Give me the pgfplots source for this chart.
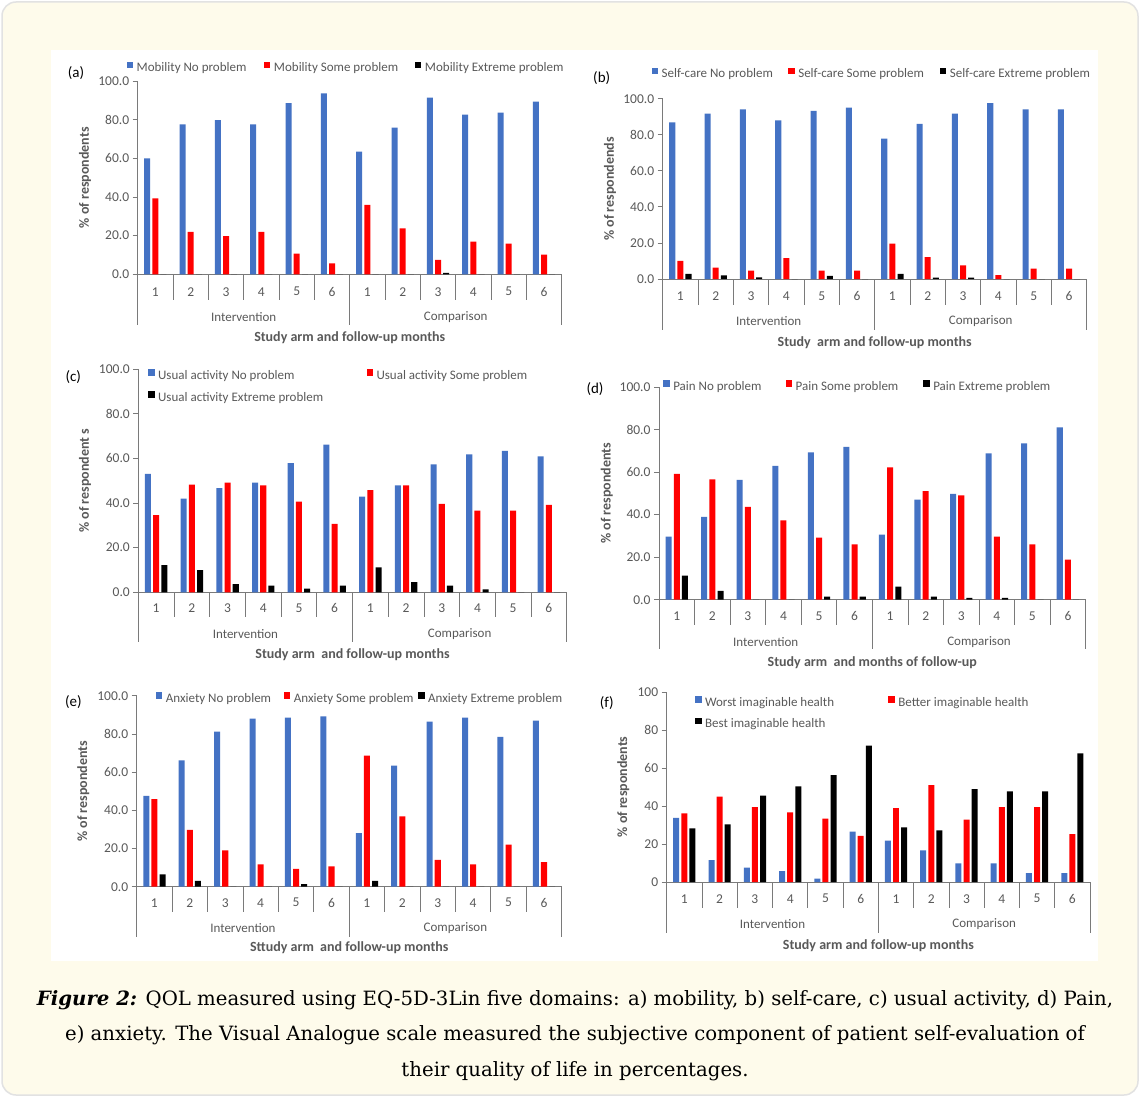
\documentclass[border=0pt]{standalone}
\usepackage{pgfplots}
\pgfplotsset{compat=1.18}
\usepackage{fontspec}
\setmainfont{Carlito}
\newfontfamily\capfont{DejaVu Serif}
\definecolor{xblue}{HTML}{4472C4}
\definecolor{xred}{HTML}{FF0000}
\definecolor{txtgray}{HTML}{595959}
\definecolor{axgray}{HTML}{7A7A7A}
\definecolor{cream}{HTML}{FEFBEB}
\definecolor{framegray}{HTML}{E2E2E2}

\newcommand{\tickfont}{\fontsize{13.5}{15}\selectfont}
\newcommand{\legfont}{\fontsize{13}{15}\selectfont}
\newcommand{\grpfont}{\fontsize{13}{15}\selectfont}
\newcommand{\titfont}{\fontsize{14}{16}\selectfont\bfseries}
\newcommand{\letfont}{\fontsize{15}{17}\selectfont}

\tikzset{sepline/.style={axgray, line width=0.8pt}}
\pgfplotsset{
  panel/.style={
    scale only axis, clip=false,
    ymin=0, ymax=100, xmin=-0.5, xmax=11.5,
    axis lines*=left,
    axis line style={axgray, line width=0.8pt},
    ytick={0,20,40,60,80,100},
    ytick align=outside, ytick pos=left,
    major tick length=5pt,
    y tick style={axgray, line width=0.8pt},
    /pgf/number format/assume math mode=true,
    yticklabel style={font=\tickfont, text=txtgray,
      /pgf/number format/fixed, /pgf/number format/fixed zerofill,
      /pgf/number format/precision=1},
    xtick={0,1,2,3,4,5,6,7,8,9,10,11},
    xticklabels={1,2,3,4,5,6,1,2,3,4,5,6},
    x tick style={draw=none},
    xticklabel style={font=\tickfont, text=txtgray, anchor=center, yshift=-16.5pt},
    legend cell align=left,
    legend style={draw=none, fill=none, inner sep=0pt, outer sep=0pt,
      font=\legfont, text=txtgray,
      nodes={inner sep=0pt, text height=9pt, text depth=3pt},
      /tikz/column sep=0pt, /tikz/row sep=8.7pt,
      /tikz/every odd column/.style={column sep=3.5pt},
      /tikz/every even column/.style={column sep=0pt}},
  },
  xb/.style={ybar, bar width=0.17, draw=none,
    legend image code/.code={\fill[##1] (0pt,0.5pt) rectangle (6.5pt,7pt);}},
}
\newcommand{\seps}[2]{%
  \pgfplotsinvokeforeach{0.5,1.5,2.5,3.5,4.5,6.5,7.5,8.5,9.5,10.5}{\draw[sepline] (axis cs:##1,0) -- ++(0pt,-#1pt);}%
  \pgfplotsinvokeforeach{-0.5,5.5,11.5}{\draw[sepline] (axis cs:##1,0) -- ++(0pt,-#2pt);}%
}

\begin{document}
\begin{tikzpicture}
\useasboundingbox (0pt,0pt) rectangle (1140pt,-1097pt);
\fill[white] (0pt,0pt) rectangle (1140pt,-1097pt);
\draw[framegray, fill=cream, line width=1.5pt, rounded corners=14pt] (2pt,-2pt) rectangle (1138pt,-1095pt);
\fill[white] (51pt,-50pt) rectangle (1098pt,-961pt);

% ---------------- (a) ----------------
\begin{axis}[panel, at={(137.7pt,-274.3pt)}, anchor=south west, width=424pt, height=193.3pt,
  xticklabel style={yshift=-0.9pt},
  legend columns=3,
  legend style={at={(axis description cs:-0.026,1.067)}, anchor=west}]
\addplot[xb, fill=xblue, bar shift=-0.23] coordinates {(0,60.0) (1,77.6) (2,79.7) (3,77.6) (4,88.6) (5,93.6) (6,63.4) (7,75.9) (8,91.4) (9,82.6) (10,83.6) (11,89.3)};
\addlegendentry{\makebox[127.3pt][l]{Mobility No problem}}
\addplot[xb, fill=xred, bar shift=0] coordinates {(0,39.3) (1,21.9) (2,19.7) (3,21.9) (4,10.7) (5,5.7) (6,35.9) (7,23.8) (8,7.4) (9,16.9) (10,15.9) (11,10.2)};
\addlegendentry{\makebox[141pt][l]{Mobility Some problem}}
\addplot[xb, fill=black, bar shift=0.23] coordinates {(0,0) (1,0) (2,0) (3,0) (4,0) (5,0) (6,0) (7,0) (8,0.7) (9,0) (10,0) (11,0)};
\addlegendentry{Mobility Extreme problem}
\seps{25.7}{50.7}
\end{axis}
\node[font=\letfont] at (76pt,-73pt) {(a)};
\node[font=\titfont, text=txtgray, rotate=90] at (85pt,-177.7pt) {\% of respondents};
\node[font=\grpfont, text=txtgray] at (243.7pt,-317pt) {Intervention};
\node[font=\grpfont, text=txtgray] at (455.7pt,-317pt) {Comparison};
\node[font=\titfont, text=txtgray] at (349.7pt,-337.7pt) {Study arm and follow-up months};

% ---------------- (b) ----------------
\begin{axis}[panel, at={(662.7pt,-279pt)}, anchor=south west, width=424pt, height=180.3pt,
  xticklabel style={yshift=-0.5pt},
  legend columns=3,
  legend style={at={(axis description cs:-0.026,1.137)}, anchor=west}]
\addplot[xb, fill=xblue, bar shift=-0.23] coordinates {(0,86.9) (1,91.7) (2,94.1) (3,88.0) (4,93.3) (5,95.0) (6,77.8) (7,86.1) (8,91.7) (9,97.6) (10,94.1) (11,94.1)};
\addlegendentry{\makebox[126.6pt][l]{Self-care No problem}}
\addplot[xb, fill=xred, bar shift=0] coordinates {(0,10.0) (1,6.3) (2,4.6) (3,11.6) (4,4.6) (5,4.6) (6,19.6) (7,12.2) (8,7.6) (9,2.2) (10,5.7) (11,5.7)};
\addlegendentry{\makebox[141.7pt][l]{Self-care Some problem}}
\addplot[xb, fill=black, bar shift=0.23] coordinates {(0,2.8) (1,2.0) (2,0.9) (3,0) (4,1.7) (5,0) (6,2.8) (7,0.7) (8,0.7) (9,0) (10,0) (11,0)};
\addlegendentry{Self-care Extreme problem}
\seps{26}{51}
\end{axis}
\node[font=\letfont] at (601.7pt,-78.3pt) {(b)};
\node[font=\titfont, text=txtgray, rotate=90] at (610pt,-188.8pt) {\% of respondends};
\node[font=\grpfont, text=txtgray] at (768.7pt,-321pt) {Intervention};
\node[font=\grpfont, text=txtgray] at (980.7pt,-321pt) {Comparison};
\node[font=\titfont, text=txtgray] at (874.7pt,-342.7pt) {Study\ \ arm and follow-up months};

% ---------------- (c) ----------------
\begin{axis}[panel, at={(138.3pt,-592.3pt)}, anchor=south west, width=428.4pt, height=223.3pt,
  xticklabel style={yshift=0.8pt},
  legend columns=2,
  legend style={at={(axis description cs:0.023,0.998)}, anchor=north west}]
\addplot[xb, fill=xblue, bar shift=-0.23] coordinates {(0,53.0) (1,41.9) (2,46.7) (3,49.1) (4,57.9) (5,66.1) (6,42.8) (7,47.9) (8,57.3) (9,61.8) (10,63.3) (11,60.9)};
\addlegendentry{\makebox[208.4pt][l]{Usual activity No problem}}
\addplot[xb, fill=xred, bar shift=0] coordinates {(0,34.6) (1,48.2) (2,49.1) (3,47.9) (4,40.6) (5,30.7) (6,45.8) (7,47.9) (8,39.6) (9,36.6) (10,36.6) (11,39.1)};
\addlegendentry{Usual activity Some problem}
\addplot[xb, fill=black, bar shift=0.23] coordinates {(0,12.2) (1,9.9) (2,3.7) (3,3.0) (4,1.6) (5,3.0) (6,11.2) (7,4.6) (8,3.0) (9,1.3) (10,0) (11,0)};
\addlegendentry{Usual activity Extreme problem}
\seps{24.7}{49.4}
\end{axis}
\node[font=\letfont] at (73.3pt,-376.7pt) {(c)};
\node[font=\titfont, text=txtgray, rotate=90] at (85pt,-480.7pt) {\% of respondent s};
\node[font=\grpfont, text=txtgray] at (245.4pt,-634.3pt) {Intervention};
\node[font=\grpfont, text=txtgray] at (459.6pt,-634.3pt) {Comparison};
\node[font=\titfont, text=txtgray] at (352.5pt,-654.3pt) {Study arm\ \ and follow-up months};

% ---------------- (d) ----------------
\begin{axis}[panel, at={(659pt,-599.7pt)}, anchor=south west, width=426.7pt, height=212.7pt,
  xticklabel style={yshift=0.2pt},
  legend columns=3,
  legend style={at={(axis description cs:0.010,1.001)}, anchor=west}]
\addplot[xb, fill=xblue, bar shift=-0.23] coordinates {(0,29.6) (1,38.9) (2,56.3) (3,62.9) (4,69.3) (5,71.8) (6,30.6) (7,47.0) (8,49.8) (9,68.8) (10,73.5) (11,81.0)};
\addlegendentry{\makebox[112.4pt][l]{Pain No problem}}
\addplot[xb, fill=xred, bar shift=0] coordinates {(0,59.1) (1,56.6) (2,43.6) (3,37.3) (4,29.2) (5,26.0) (6,62.2) (7,51.1) (8,49.1) (9,29.6) (10,26.0) (11,18.8)};
\addlegendentry{\makebox[127.6pt][l]{Pain Some problem}}
\addplot[xb, fill=black, bar shift=0.23] coordinates {(0,11.3) (1,4.2) (2,0) (3,0) (4,1.4) (5,1.4) (6,6.1) (7,1.4) (8,0.9) (9,0.9) (10,0) (11,0)};
\addlegendentry{Pain Extreme problem}
\seps{25.3}{49.6}
\end{axis}
\node[font=\letfont] at (595pt,-389pt) {(d)};
\node[font=\titfont, text=txtgray, rotate=90] at (606.7pt,-493.3pt) {\% of respondents};
\node[font=\grpfont, text=txtgray] at (765.7pt,-641.7pt) {Intervention};
\node[font=\grpfont, text=txtgray] at (979pt,-641.7pt) {Comparison};
\node[font=\titfont, text=txtgray] at (872.3pt,-662.7pt) {Study arm\ \ and months of follow-up};

% ---------------- (e) ----------------
\begin{axis}[panel, at={(136.7pt,-886.7pt)}, anchor=south west, width=425pt, height=191pt,
  xticklabel style={yshift=0.5pt},
  legend columns=3,
  legend style={at={(axis description cs:0.045,0.983)}, anchor=west}]
\addplot[xb, fill=xblue, bar shift=-0.23] coordinates {(0,47.5) (1,66.1) (2,81.2) (3,88.0) (4,88.5) (5,89.2) (6,28.1) (7,63.4) (8,86.4) (9,88.5) (10,78.4) (11,86.9)};
\addlegendentry{\makebox[118pt][l]{Anxiety No problem}}
\addplot[xb, fill=xred, bar shift=0] coordinates {(0,45.9) (1,29.8) (2,19.0) (3,11.7) (4,9.4) (5,10.6) (6,68.6) (7,36.8) (8,14.0) (9,11.7) (10,22.0) (11,12.9)};
\addlegendentry{\makebox[124.3pt][l]{Anxiety Some problem}}
\addplot[xb, fill=black, bar shift=0.23] coordinates {(0,6.5) (1,3.1) (2,0) (3,0) (4,1.4) (5,0) (6,3.1) (7,0) (8,0) (9,0) (10,0) (11,0)};
\addlegendentry{Anxiety Extreme problem}
\seps{25}{50}
\end{axis}
\node[font=\letfont] at (73.3pt,-701.7pt) {(e)};
\node[font=\titfont, text=txtgray, rotate=90] at (83.3pt,-791.2pt) {\% of respondents};
\node[font=\grpfont, text=txtgray] at (242.9pt,-928.3pt) {Intervention};
\node[font=\grpfont, text=txtgray] at (455.4pt,-928.3pt) {Comparison};
\node[font=\titfont, text=txtgray] at (349.2pt,-947.7pt) {Sttudy arm\ \ and follow-up months};

% ---------------- (f) ----------------
\begin{axis}[panel, at={(666.7pt,-882pt)}, anchor=south west, width=423.3pt, height=189.7pt,
  yticklabel style={/pgf/number format/precision=0},
  xticklabel style={yshift=-0.2pt},
  legend columns=2,
  legend style={at={(axis description cs:0.067,0.979)}, anchor=north west}]
\addplot[xb, fill=xblue, bar shift=-0.23] coordinates {(0,33.8) (1,11.6) (2,7.6) (3,5.8) (4,1.8) (5,26.5) (6,21.8) (7,16.7) (8,9.8) (9,9.8) (10,4.7) (11,4.7)};
\addlegendentry{\makebox[183.3pt][l]{Worst imaginable health}}
\addplot[xb, fill=xred, bar shift=0] coordinates {(0,36.2) (1,45.0) (2,39.5) (3,36.7) (4,33.4) (5,24.3) (6,39.0) (7,51.1) (8,32.9) (9,39.5) (10,39.5) (11,25.3)};
\addlegendentry{Better imaginable health}
\addplot[xb, fill=black, bar shift=0.23] coordinates {(0,28.3) (1,30.4) (2,45.5) (3,50.4) (4,56.4) (5,71.9) (6,28.8) (7,27.2) (8,48.9) (9,47.8) (10,47.8) (11,67.8)};
\addlegendentry{Best imaginable health}
\seps{25.7}{51.3}
\end{axis}
\node[font=\letfont] at (606.7pt,-703pt) {(f)};
\node[font=\titfont, text=txtgray, rotate=90] at (623.3pt,-786.9pt) {\% of respondents};
\node[font=\grpfont, text=txtgray] at (772.5pt,-924.3pt) {Intervention};
\node[font=\grpfont, text=txtgray] at (984.2pt,-924.3pt) {Comparison};
\node[font=\titfont, text=txtgray] at (878.4pt,-945.7pt) {Study arm and follow-up months};

% ---------------- caption ----------------
\node[anchor=base, font=\capfont\fontsize{19.7}{23}\selectfont] at (575pt,-1005pt) {\textbf{\textit{Figure 2:}} QOL measured using EQ-5D-3Lin five domains: a) mobility, b) self-care, c) usual activity, d) Pain,};
\node[anchor=base, font=\capfont\fontsize{19.7}{23}\selectfont] at (575pt,-1040.5pt) {e) anxiety. The Visual Analogue scale measured the subjective component of patient self-evaluation of};
\node[anchor=base, font=\capfont\fontsize{19.7}{23}\selectfont] at (575pt,-1076pt) {their quality of life in percentages.};
\end{tikzpicture}
\end{document}
